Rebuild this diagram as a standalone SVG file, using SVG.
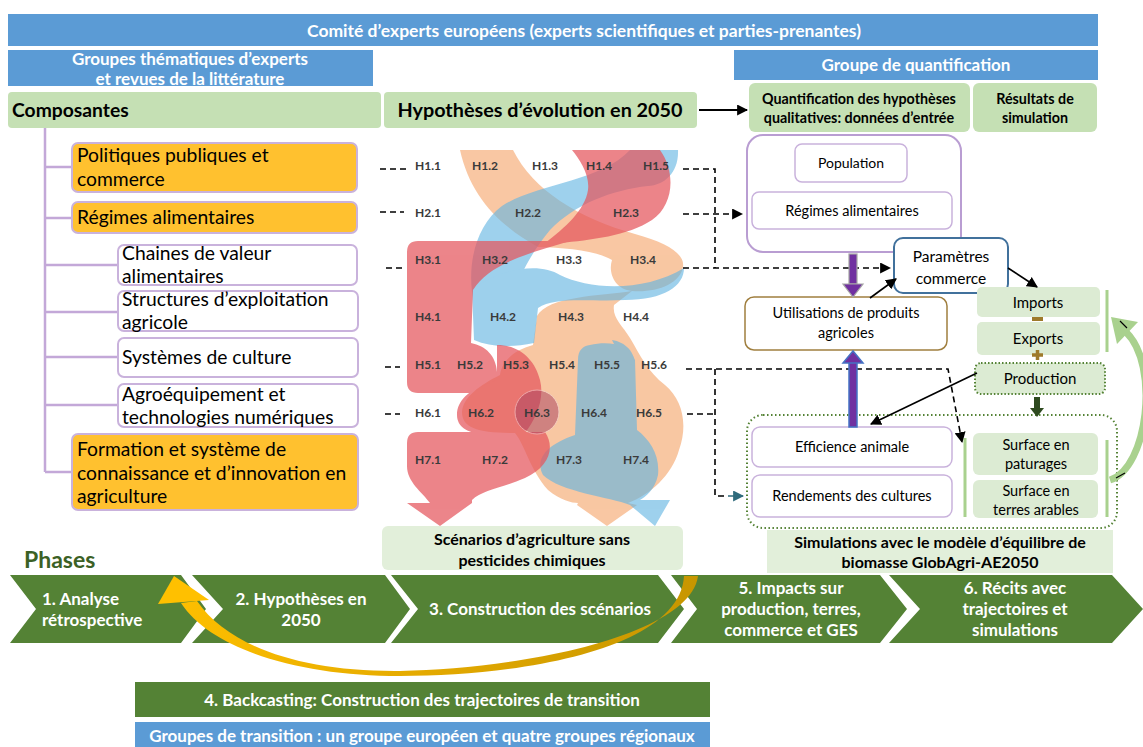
<svg xmlns="http://www.w3.org/2000/svg" width="1143" height="747" viewBox="0 0 1143 747">
<defs>
<style>
text{font-family:Lato,"Liberation Sans",sans-serif;fill:#000}
.b{font-weight:bold}
.wt{fill:#fff;font-weight:bold}
.m{text-anchor:middle}
.blue{fill:#5B9BD5}
.lg{fill:#C5E0B4}
.vlg{fill:#E2EFDA}
.pg{fill:#DCEBD3}
.orange{fill:#FFC12F;stroke:#C9B2DC;stroke-width:2}
.wbox{fill:#fff;stroke:#C9B2DC;stroke-width:2}
.tree{stroke:#C3A8D8;stroke-width:2.5;fill:none}
.dash{stroke:#000;stroke-width:1.6;stroke-dasharray:6 4;fill:none}
.chev{fill:#548235}
.h{font-size:12px;font-weight:bold;fill:#3a3a3a;text-anchor:middle}
.c18{font-size:19.3px}
.c16{font-size:16px}
.c14{font-size:14.5px}
.c13{font-size:14.5px}
.c15{font-size:17px}
.gl{stroke:#A9D18E;stroke-width:3}
.solid{stroke:#000;stroke-width:1.6;fill:none}
</style>
<marker id="ah" viewBox="0 0 10 10" refX="9" refY="5" markerWidth="11" markerHeight="11" markerUnits="userSpaceOnUse" orient="auto"><path d="M0,0 L10,5 L0,10 z" fill="#000"/></marker>
<marker id="aht" viewBox="0 0 10 10" refX="9" refY="5" markerWidth="11" markerHeight="11" markerUnits="userSpaceOnUse" orient="auto"><path d="M0,0 L10,5 L0,10 z" fill="#2F6B7C"/></marker>
<linearGradient id="gold" gradientUnits="userSpaceOnUse" x1="700" y1="600" x2="160" y2="600">
<stop offset="0" stop-color="#C79600"/>
<stop offset="0.45" stop-color="#E0A700"/>
<stop offset="1" stop-color="#FFC000"/>
</linearGradient>
</defs>
<rect width="1143" height="747" fill="#fff"/>

<!-- top banners -->
<g id="comite"><rect x="8" y="14" width="1090" height="32" class="blue"/>
<text x="584" y="36.5" class="wt m" style="font-size:17.5px">Comité d’experts européens (experts scientifiques et parties-prenantes)</text></g>
<g id="groupes-thematiques"><rect x="8" y="50" width="365" height="36" class="blue"/>
<text x="190" y="65" class="wt m c15">Groupes thématiques d’experts</text>
<text x="190" y="85" class="wt m c15">et revues de la littérature</text></g>
<g id="groupe-quantification"><rect x="734" y="50" width="364" height="30" class="blue"/>
<text x="916" y="71" class="wt m c15">Groupe de quantification</text></g>

<g id="composantes"><rect x="8" y="92" width="373" height="36" rx="4" class="lg"/>
<text x="12" y="117" class="b c18">Composantes</text></g>
<g id="hypotheses"><rect x="384" y="92" width="313" height="36" rx="4" class="lg"/>
<text x="540" y="117" class="b m" style="font-size:19.8px">Hypothèses d’évolution en 2050</text></g>
<g id="quantification"><rect x="749" y="83" width="221" height="49" rx="6" class="lg"/>
<text x="859" y="104" class="b m" style="font-size:14.3px">Quantification des hypothèses</text>
<text x="859" y="123" class="b m" style="font-size:14.3px">qualitatives: données d’entrée</text></g>
<g id="resultats"><rect x="973" y="83" width="124" height="49" rx="6" class="lg"/>
<text x="1035" y="104" class="b m" style="font-size:14.3px">Résultats de</text>
<text x="1035" y="123" class="b m" style="font-size:14.3px">simulation</text></g>

<!-- tree -->
<g id="tree" class="tree">
<path d="M45 128 V472 M45 167 H72 M45 218 H72 M45 265 H118 M45 312 H118 M45 357 H118 M45 405 H118 M45 472 H72"/>
</g>
<g id="politiques"><rect x="72" y="143" width="285" height="49" rx="6" class="orange"/>
<text x="77" y="162" class="c18">Politiques publiques et</text>
<text x="77" y="186" class="c18">commerce</text></g>
<g id="regimes"><rect x="72" y="202" width="285" height="31" rx="6" class="orange"/>
<text x="77" y="224" class="c18">Régimes alimentaires</text></g>
<g id="chaines"><rect x="118" y="245" width="239" height="40" rx="6" class="wbox"/>
<text x="122" y="260" class="c18">Chaines de valeur</text>
<text x="122" y="283" class="c18">alimentaires</text></g>
<g id="structures"><rect x="118" y="291" width="240" height="40" rx="6" class="wbox"/>
<text x="122" y="306" class="c18">Structures d’exploitation</text>
<text x="122" y="329" class="c18">agricole</text></g>
<g id="systemes"><rect x="118" y="338" width="240" height="39" rx="6" class="wbox"/>
<text x="122" y="364" class="c18">Systèmes de culture</text></g>
<g id="agroequipement"><rect x="118" y="384" width="240" height="43" rx="6" class="wbox"/>
<text x="122" y="401" class="c18">Agroéquipement et</text>
<text x="122" y="424" class="c18">technologies numériques</text></g>
<g id="formation"><rect x="72" y="434" width="286" height="76" rx="6" class="orange"/>
<text x="77" y="456" class="c18">Formation et système de</text>
<text x="77" y="480" class="c18">connaissance et d’innovation en</text>
<text x="77" y="503" class="c18">agriculture</text></g>

<!-- flows -->
<g id="flows">
<g opacity="0.6" fill="#F5A266">
<path d="M460 150 L513 150 C533 190 578 218 635 234 C668 243 685 254 683 267 C680 284 656 293 632 291 C614 289 608 272 612 260 C595 250 565 248 538 247 C498 225 470 195 460 150 Z"/>
<path d="M632 291 C600 296 548 296 537 316 L533 345 C515 350 502 360 500 375 C480 385 463 397 462 412 C462 428 478 433 515 433 C525 445 530 470 548 490 C560 500 572 503 578 503 L577 505 L607 526 L637 505 L628 503 C650 495 672 475 679 450 C688 425 683 400 665 385 C648 372 640 355 630 338 C622 325 612 318 614 305 Z"/>
</g>
<g opacity="0.62" fill="#62B4E2">
<path d="M630 150 L678 150 C679 172 665 185 648 186 C612 190 575 204 550 230 C537 246 527 262 521 276 L472 292 C468 258 478 224 502 206 C535 184 600 182 630 150 Z"/>
<path d="M472 290 C500 268 540 262 560 275 C590 290 645 292 684 268 C684 286 664 300 625 300 C590 302 555 296 538 308 L534 343 C510 348 490 347 474 340 Z"/>
<path d="M590 345 C610 340 630 345 635 360 L637 430 C650 440 660 455 658 475 C655 490 645 497 640 500 L670 500 L655 526 L630 505 C610 497 560 492 543 475 C535 460 545 445 575 435 L578 360 C578 350 583 346 590 345 Z"/>
<path d="M612 340 C625 342 636 352 634 366 L622 360 Z"/>
</g>
<g opacity="0.72" fill="#E5565D">
<path d="M572 150 L660 150 C676 172 674 205 652 220 C628 236 590 240 560 243 L545 243 C565 228 585 210 588 190 C590 175 580 160 572 150 Z"/>
<path d="M418 241 L570 241 C535 252 490 262 473 290 L471 343 C486 346 496 356 497 372 L497 393 L418 393 Q407 393 407 382 L407 252 Q407 241 418 241 Z"/>
<path d="M497 345 C520 345 535 360 540 380 C545 400 535 420 525 433 L480 433 C468 433 457 427 457 415 C457 400 470 390 485 385 L497 380 Z"/>
<path d="M418 432 L545 432 C556 448 548 468 525 478 C502 488 482 490 472 500 L472 503 L440 526 L407 503 L430 503 C422 492 407 482 407 466 L407 443 Q407 432 418 432 Z"/>
</g>
<circle cx="537" cy="412" r="22" fill="#A8405F" opacity="0.5" stroke="#F3D7DF" stroke-width="1"/>
</g>

<g id="h-labels">
<text x="428" y="170" class="h">H1.1</text><text x="485" y="170" class="h">H1.2</text><text x="545" y="170" class="h">H1.3</text><text x="599" y="170" class="h">H1.4</text><text x="656" y="170" class="h">H1.5</text>
<text x="428" y="217" class="h">H2.1</text><text x="528" y="217" class="h">H2.2</text><text x="626" y="217" class="h">H2.3</text>
<text x="428" y="264" class="h">H3.1</text><text x="495" y="264" class="h">H3.2</text><text x="569" y="264" class="h">H3.3</text><text x="643" y="264" class="h">H3.4</text>
<text x="428" y="321" class="h">H4.1</text><text x="503" y="321" class="h">H4.2</text><text x="571" y="321" class="h">H4.3</text><text x="636" y="321" class="h">H4.4</text>
<text x="428" y="369" class="h">H5.1</text><text x="470" y="369" class="h">H5.2</text><text x="516" y="369" class="h">H5.3</text><text x="562" y="369" class="h">H5.4</text><text x="607" y="369" class="h">H5.5</text><text x="654" y="369" class="h">H5.6</text>
<text x="428" y="417" class="h">H6.1</text><text x="481" y="417" class="h">H6.2</text><text x="537" y="417" class="h">H6.3</text><text x="594" y="417" class="h">H6.4</text><text x="649" y="417" class="h">H6.5</text>
<text x="428" y="464" class="h">H7.1</text><text x="495" y="464" class="h">H7.2</text><text x="569" y="464" class="h">H7.3</text><text x="636" y="464" class="h">H7.4</text>
</g>

<g id="scenarios"><rect x="382" y="526" width="301" height="44" rx="6" class="vlg"/>
<text x="532" y="545" class="b m c16">Scénarios d’agriculture sans</text>
<text x="532" y="566" class="b m c16">pesticides chimiques</text></g>

<!-- right panel -->
<g id="demande"><rect x="747" y="135" width="214" height="117" rx="16" fill="#fff" stroke="#B99DD2" stroke-width="2"/></g>
<g id="population"><rect x="795" y="144" width="112" height="38" rx="7" fill="#fff" stroke="#C9B2DC" stroke-width="1.5"/>
<text x="851" y="168" class="m" style="font-size:14px">Population</text></g>
<g id="regimes-q"><rect x="752" y="192" width="200" height="37" rx="7" fill="#fff" stroke="#C9B2DC" stroke-width="1.5"/>
<text x="852" y="216" class="m c13">Régimes alimentaires</text></g>
<g id="parametres"><rect x="894" y="238" width="114" height="55" rx="9" fill="#fff" stroke="#41719C" stroke-width="2"/>
<text x="951" y="262" class="m" style="font-size:15.5px">Paramètres</text>
<text x="951" y="284" class="m" style="font-size:15.5px">commerce</text></g>
<g id="utilisations"><rect x="745" y="297" width="202" height="53" rx="9" fill="#fff" stroke="#A07F3F" stroke-width="1.5"/>
<text x="846" y="318" class="m c13">Utilisations de produits</text>
<text x="846" y="338" class="m c13">agricoles</text></g>
<g id="imports"><rect x="977" y="287" width="123" height="30" rx="5" class="pg"/>
<text x="1038" y="308" class="m" style="font-size:15px">Imports</text></g>
<g id="exports"><rect x="977" y="322" width="123" height="33" rx="5" class="pg"/>
<text x="1038" y="344" class="m" style="font-size:15px">Exports</text></g>
<rect x="1032" y="317" width="11" height="4" fill="#9E7A2A"/>
<path d="M1032 355 H1043 M1037.5 350 V360" stroke="#9E7A2A" stroke-width="3.5"/>
<g id="production"><rect x="975" y="363" width="130" height="31" rx="6" class="pg" stroke="#548235" stroke-width="2" stroke-dasharray="1.5 2"/>
<text x="1040" y="384" class="m" style="font-size:15px">Production</text></g>
<g id="simulation"><rect x="747" y="415" width="370" height="113" rx="16" fill="none" stroke="#548235" stroke-width="2" stroke-dasharray="1.5 2.5"/></g>
<g id="efficience"><rect x="752" y="427" width="200" height="40" rx="8" fill="#fff" stroke="#C9B2DC" stroke-width="1.5"/>
<text x="852" y="452" class="m c13">Efficience animale</text></g>
<g id="rendements"><rect x="752" y="475" width="200" height="42" rx="8" fill="#fff" stroke="#C9B2DC" stroke-width="1.5"/>
<text x="852" y="501" class="m c13">Rendements des cultures</text></g>
<g id="paturages"><rect x="973" y="433" width="125" height="42" rx="6" class="pg"/>
<text x="1036" y="450" class="m c14">Surface en</text>
<text x="1036" y="469" class="m c14">paturages</text></g>
<g id="arables"><rect x="973" y="480" width="125" height="38" rx="6" class="pg"/>
<text x="1036" y="496" class="m c14">Surface en</text>
<text x="1036" y="515" class="m c14">terres arables</text></g>
<path d="M965 438 V517 M1107 440 V517 M1107 290 V352" class="gl"/>
<g id="simulations-label"><rect x="767" y="530" width="346" height="43" class="vlg"/>
<text x="940" y="548" class="b m c16">Simulations avec le modèle d’équilibre de</text>
<text x="940" y="568" class="b m c16">biomasse GlobAgri-AE2050</text></g>

<!-- connectors -->
<g id="connectors">
<path d="M699 110 H747" stroke="#000" stroke-width="2" marker-end="url(#ah)"/>
<path class="dash" d="M380 169 H406 M380 212 H404 M386 268 H404 M385 367 H400 M385 414 H400"/>
<path class="dash" d="M683 169 H715 V268 M687 414 H715 M715 369 V496 H726"/>
<path class="dash" d="M683 214 H742" marker-end="url(#ah)"/>
<path class="dash" d="M683 268 H890" marker-end="url(#ah)"/>
<path class="dash" d="M686 369 H948 L962 442" marker-end="url(#ah)"/>
<path d="M728 496 H743" stroke="#2F6B7C" stroke-width="1.6" stroke-dasharray="6 3" marker-end="url(#aht)"/>
<path class="solid" d="M870 298 L896 279" marker-end="url(#ah)"/>
<path class="solid" d="M1008 268 L1037 287" marker-end="url(#ah)"/>
<path class="solid" d="M977 373 L871 424" marker-end="url(#ah)"/>
<rect x="849" y="254" width="8" height="30" fill="#7030A0" stroke="#A5A5A5" stroke-width="1.2"/>
<polygon points="843,284 863,284 853,297" fill="#7030A0" stroke="#A5A5A5" stroke-width="1.2"/>
<rect x="849" y="362" width="8" height="65" fill="#7030A0" stroke="#4472C4" stroke-width="1.5"/>
<polygon points="843,363 863,363 853,351" fill="#7030A0" stroke="#4472C4" stroke-width="1.5"/>
<rect x="1034" y="397" width="6" height="12" fill="#2E4A1F"/>
<polygon points="1030,408 1044,408 1037,417" fill="#2E4A1F"/>
<path d="M1110 480 C1148 468 1160 365 1126 332" fill="none" stroke="#A9D18E" stroke-width="7"/>
<polygon points="1111,317 1138,322 1117,344" fill="#A9D18E"/>
<path d="M1127 328 L1120 321 M1116 478 L1125 473" stroke="#000" stroke-width="1.2"/>
</g>

<!-- phases -->
<text x="24" y="568" class="b" style="font-size:23px;fill:#3B6125">Phases</text>
<g id="phase1"><polygon points="10,575 181,575 206,609 181,643 10,643 36,609" class="chev"/>
<text x="42" y="605" class="wt c15">1. Analyse</text>
<text x="42" y="626" class="wt c15">rétrospective</text></g>
<g id="phase2"><polygon points="192,575 385,575 410,609 385,643 192,643 223,609" class="chev"/>
<text x="301" y="605" class="wt m c15">2. Hypothèses en</text>
<text x="301" y="626" class="wt m c15">2050</text></g>
<g id="phase3"><polygon points="391,575 658,575 684,609 658,643 391,643 418,609" class="chev"/>
<text x="540" y="615" class="wt m c15">3. Construction des scénarios</text></g>
<g id="phase5"><polygon points="671,575 880,575 907,609 880,643 671,643 697,609" class="chev"/>
<text x="791" y="594" class="wt m c15">5.  Impacts sur</text>
<text x="791" y="615" class="wt m c15">production, terres,</text>
<text x="791" y="636" class="wt m c15">commerce et GES</text></g>
<g id="phase6"><polygon points="889,575 1112,575 1143,609 1112,643 889,643 920,609" class="chev"/>
<text x="1015" y="594" class="wt m c15">6. Récits avec</text>
<text x="1015" y="615" class="wt m c15">trajectoires et</text>
<text x="1015" y="636" class="wt m c15">simulations</text></g>

<g id="backcast-arrow">
<path d="M698 576 C690 636 520 669 400 671 C300 672 228 646 197 601 L181 603 C212 650 300 676 400 676 C525 676 680 648 684 576 Z" fill="url(#gold)"/>
<polygon points="174,576 209,600 158,604" fill="#FFC000"/>
</g>

<g id="backcasting"><rect x="135" y="682" width="575" height="35" class="chev"/>
<text x="422" y="706" class="wt m c15">4. Backcasting: Construction des trajectoires de transition</text></g>
<g id="groupes-transition"><rect x="135" y="722" width="575" height="30" class="blue"/>
<text x="422" y="742" class="wt m c15">Groupes de transition : un groupe européen et quatre groupes régionaux</text></g>
</svg>
